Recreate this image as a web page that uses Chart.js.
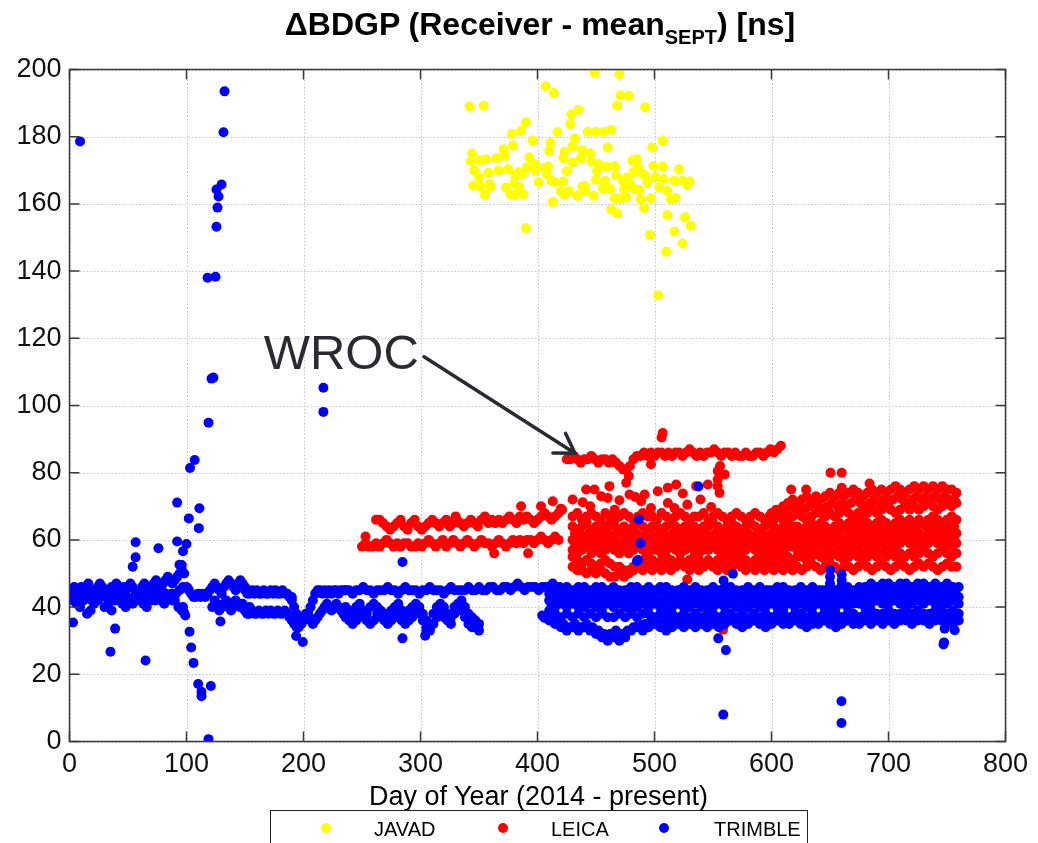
<!DOCTYPE html>
<html>
<head>
<meta charset="utf-8">
<title>BDGP receiver offsets</title>
<script src="https://cdn.jsdelivr.net/npm/chart.js@4.4.1/dist/chart.umd.min.js"></script>
<style>
  body { margin: 0; background: #fff; }
  #wrap { position: relative; width: 1038px; height: 843px; overflow: hidden; font-family: "Liberation Sans", Arial, sans-serif; color: #000; }
  #chart { position: absolute; left: 0; top: 0; }
  #title { position: absolute; left: 0; width: 1080px; top: 8px; line-height: 32px; text-align: center; font-weight: bold; font-size: 32px; white-space: nowrap; }
  #title sub { font-size: 20px; line-height: 0; vertical-align: -9px; }
  #xlabel { position: absolute; left: 0; width: 1077px; top: 783px; line-height: 27px; text-align: center; font-size: 27px; white-space: nowrap; }
  #wroc { position: absolute; font-size: 49px; line-height: 49px; color: #2a2a33; white-space: nowrap; }
  #legend { position: absolute; left: 270px; top: 810px; width: 536px; height: 60px; border: 1.5px solid #222; }
  .ldot { position: absolute; width: 10px; height: 10px; border-radius: 50%; }
  .ltxt { position: absolute; font-size: 20px; line-height: 20px; white-space: nowrap; }
</style>
</head>
<body>
<div id="wrap">
  <canvas id="chart" width="1038" height="843"></canvas>
  <div id="title">&Delta;BDGP (Receiver - mean<sub>SEPT</sub>) [ns]</div>
  <div id="xlabel">Day of Year (2014 - present)</div>
  <div id="wroc">WROC</div>
  <div id="legend"></div>
</div>
<script>
// ---- data (day of year, offset in ns) ----
const seriesNames = ["JAVAD", "LEICA", "TRIMBLE"];
const seriesColors = ["#ffff00", "#ff0000", "#0000ff"];

// JAVAD: scattered points
const javadPoints = [
  [342,189],[354,189.2],[407,195],[414,193],[449,199],[470,198.6],[471,192.3],[478,192.2],[468,189.3],[492,188.8],
  [429,186.7],[435,188],[428,183.8],[390,184.3],[386,181.8],[378,180.8],[396,178.8],[417,181.4],[443,181.5],[450,181.5],
  [457,181.5],[463,182.1],[432,179.5],[411,178.1],[410,175.8],[430,177],[423,175.5],[422,173.6],[438,176],[445,175.1],
  [460,176.8],[437,173.6],[430,172.4],[425,169.7],[446,172.6],[452,171.9],[451,169.9],[466,171.3],[467,168.6],[459,171.1],
  [406,170.7],[409,171.1],[398,169.9],[398,171.9],[393,173.9],[391,170.9],[387,168.9],[384,169.4],[381,168.3],[379,177.3],
  [371,176.3],[372,174.3],[365,173.6],[367,169.9],[375,170.4],[356,173.3],[351,173],[344,175],[343,172.6],[346,169.9],
  [350,167.9],[358,169.3],[345,165.4],[351,165.2],[359,165.9],[360,165.2],[355,162.7],[373,164.9],[377,162.9],[380,166.1],
  [381,162.7],[384,165.2],[388,162.9],[390,152.8],[401,166.5],[408,168.9],[412,166.9],[415,166.5],[422,166.7],[413,160.6],
  [420,163.8],[423,162.7],[427,163.8],[434,162.4],[438,165.1],[440,165.4],[441,163.8],[448,162.4],[450,167.2],[457,165.7],
  [458,166.9],[462,164.5],[456,164.6],[463,158.3],[468,157.2],[466,161.7],[471,161.7],[474,164.4],[473,166.9],[476,161.9],
  [477,167.9],[481,172.9],[485,173.3],[486,170.9],[482,169.4],[479,165.9],[483,164.4],[487,164.1],[488,161.4],[491,158.8],
  [490,168.9],[494,166.4],[492,168.4],[498,176.8],[507,178.8],[499,171.3],[507,171.1],[501,168],[497,161.7],[504,164.9],
  [508,167.4],[511,163.9],[514,161.5],[518,161.8],[517,166.9],[521,170.4],[524,166.9],[528,165.7],[530,166.7],[511,156.7],
  [526,156],[531,153.5],[517,151.8],[524,148.2],[496,150.8],[510,145.8],[503,132.8]
];

// LEICA: daily tracks per station (start day, step in days, values)
const leicaLeftLow = [58,59,58,58,59,58,59,60,59,58,59,58,59,59,58,58,59,58,59,60,59,58,59,60,58,59,60,59,58,59,
  60,59,58,59,60,59,59,58,59,60,59,58,59,60,59,60,59,60,60,59,60,61,60,59,60,61,60];
const leicaLeftHigh = [66,66,65,64,63,64,65,66,64,63,65,66,64,63,64,65,66,65,64,65,66,64,65,66,65,64,65,66,65,64,
  66,67,65,66,65,66,65,66,67,66,65,67,66,67,66,65,66,67,68,67,66,67,68];
const leicaWroc = [84,84,85,84,83,84,84,85,84,83,84,84,83,84,83,82,81,81,82,84,85,85,86,85,86,85,86,86,85,86,
  85,86,86,85,86,87,86,85,86,85,86,86,87,86,85,86,86,85,86,85,85,86,85,85,86,86,85,86,87,86,87,88];
const leicaA = [67,68,66,67,68,67,66,68,67,66,67,68,67,66,67,68,67,67,66,68,67,66,67,68,67,66,67,67,68,66,
  67,68,67,66,67,68,67,66,67,68,67,66,67,
  66,67,66,67,67,68,67,66,67,68,68,67,68,67,68,69,68,67,68,69,68,69,68,69,70,69,68,69,70,69,70,69,70,71,70,69,70,71,70,71];
const leicaB = [64,63,64,65,63,64,63,64,65,64,63,64,63,64,65,64,63,64,64,63,64,65,64,63,64,65,64,63,64,64,
  65,64,63,64,65,64,63,64,65,64,63,64,65,
  64,63,64,65,64,64,63,64,65,64,65,64,63,64,65,64,65,64,65,66,65,64,65,66,65,64,65,66,65,66,65,66,65,66,67,66,65,66,67,66];
const leicaI = [62,62,61,62,62,61,62,62,61,62,62,61,62,62,61,62,62,61,62,62,61,62,62,61,62,62,61,62,62,61,
  62,62,61,62,62,61,62,62,61,62,62,61,
  62,62,63,62,63,62,63,63,62,63,63,62,63,63,62,63,63,64,63,63,64,63,64,63,64,64,63,64,64,63,64,64,65,64,64,65,64,65,64,64];
const leicaC = [60,61,59,60,61,60,59,60,61,60,59,60,61,60,59,60,61,60,60,59,60,61,60,59,60,61,60,59,60,61,
  60,60,59,60,61,60,59,60,61,60,59,60,61,
  60,61,60,61,60,61,61,60,61,62,61,60,61,62,61,60,61,62,61,62,61,62,61,62,61,62,63,62,61,62,63,62,61,62,63,62,63,62,61,62];
const leicaJ = [58,59,58,58,59,58,58,59,58,58,59,58,58,59,58,58,59,58,58,59,58,58,59,58,58,59,58,58,59,58,
  58,59,58,58,59,58,58,59,58,58,59,58,
  59,59,58,59,59,58,59,59,60,59,59,60,59,59,60,59,60,60,59,60,60,59,60,60,61,60,60,61,60,60,61,60,61,61,60,61,60,61,61,60];
const leicaD = [57,56,57,58,56,57,56,57,58,57,56,57,56,57,58,57,56,57,57,56,57,58,57,56,57,58,57,56,57,57,
  58,57,56,57,58,57,56,57,58,57,56,57,58,
  57,58,57,58,58,57,58,57,58,59,58,57,58,59,58,57,58,59,58,59,58,59,58,59,58,59,58,59,60,59,58,59,60,59,60,59,60,59,58,59];
const leicaE = [55,54,53,54,53,52,53,54,53,52,52,51,51,52,53,54,53,54,53,54,55,54,53,54,53,54,55,54,53,54,
  53,54,53,54,55,54,53,54,53,54,53,54,55,
  54,55,54,55,54,55,55,54,55,56,55,54,55,56,55,54,55,56,55,56,55,56,55,56,55,56,55,56,55,56,55,56,57,56,55,56,57,56,55,56];
const leicaF = [52,51,51,50,51,50,51,50,49,49,50,49,50,51,52,51,52,51,52,51,52,51,52,53,52,51,52,51,52,53,
  52,51,52,51,52,53,52,51,52,51,52,51,52,
  51,52,51,52,51,52,51,52,53,52,51,52,53,52,51,52,52,51,52,53,52,51,52,53,52,51,52,53,52,51,52,53,52,53,52,51,52,53,52,52];
const leicaH = [68,69,68,69,70,69,70,69,70,71,70,69,70,71,70,71,70,71,72,71,70,71,72,71,72,71,72,73,72,71,
  72,73,72,73,72,73,72,73,72,72];
const leicaG = [70,71,72,71,72,73,72,73,72,73,74,73,74,73,74,75,74,73,74,75,74,75,74,75,76,75,74,75,76,75,
  76,75,76,75,76,75,75,74];
const leicaExtra = [
  [253,61],[363,56],[392,56],[386,70],[403,70],[413,71.5],[421,69],[330,67],
  [506,90.5],[507,91.8],[497,82.5],[554,78],[554,80.5],[556,82],[560,79.5],[478,79],
  [441.6,75],[448.7,75],[461.5,76],[475.8,77],[483.5,72.8],[491.5,73.5],[502.8,74.5],[511.4,75.5],[518.5,76.5],[524.2,73.8],
  [535.6,76],[545.6,76.5],[554,76],[555.6,74],[460,72.5],[470,71.8],[478.6,73.5],[488.6,71.5],[511.4,71],[517,69.5],
  [539.3,72],[548.4,69.8],[438.7,71.2],[454.4,73],[420,69.3],[430,72],[445,70],[466,69],[497,69.5],[528,70.5],
  [650.4,80],[660,80],[660,75.5],[616.8,75],[629.6,75],[683.8,76.8],
  [528,48.2],[558.6,33.3]
];

// TRIMBLE: daily tracks per station
const trimbleLeftTop = [44,45,46,45,44,46,45,46,47,45,44,45,46,47,46,45,44,45,46,46,47,45,44,46,45,46,47,46,45,44,
  45,46,47,46,45,46,47,48,47,46,47,48,49,48,47,48,49,50,51,50];
const trimbleLeftMid = [44,43,44,42,43,44,42,43,44,45,43,42,44,43,44,45,43,42,43,44,45,43,44,43,42,43,45,44,43,42,44,45,46];
const trimbleLeftLow = [43,42,41,40,42,38,39,41,42,43,40,41,39,42,43,41,40,42,41,42,43,41,40,42,43,44,42,41,43,44,42,40,39];
const trimbleSpikeTop = [46,45,44,43,43,44,43,44,43,44,45,46,47,46,45,44,46,47,48,47,46,45,47,48,47,46];
const trimbleSpikeLow = [40,42,41,39,40,41,42,40,39,40,42,41,40,41,39,38,40,39];
const trimbleMidTop = [45,44,44,45,44,45,44,44,45,44,44,45,44,45,44,44,45,44,44,43,43];
const trimbleMidLow = [39,38,38,39,38,38,39,38,38,39,38,39,38,38,39,38,38,39,38,37,37];
const trimbleWaveTop = [42,40,38,36,35,36,37,38,40,42,44,45,45,44,45,44,45,44,45,45,44,45,45,45];
const trimbleWaveLow = [36,35,34,34,35,36,38,37,36,35,36,37,38,39,40,41,40,39,40,41,40,39,38,37];
const trimbleLine = [45,45,44,45,45,46,45,45,44,45,45,45,46,45,45,44,45,46,45,45,45,44,45,45,46,45,45,45,44,45,
  46,45,45,45,45,46,45,45,46,45,45,46,46,45,45,46,46,45,46,47,46,45,46,46,46,45,46,46,46,47,46,46];
const trimbleLowA = [40,39,38,40,41,39,38,40,41,40,39,38,37,39,40,41,39,38,39,40,41,40,38,36,34,38,40,41,40,38,
  37,40,41,42,40,38,37,36,35];
const trimbleLowB = [37,36,35,36,38,37,36,35,36,38,37,36,35,36,37,38,36,35,36,37,38,39,36,34,33,35,37,38,37,36,
  35,38,40,39,37,35,34,34,33];
const trimbleBand1 = [44,45,45,46,45,46,46,45,46,46,45,46,45,45,46,46,45,46,45,46,46,45,45,46,45,46,45,45,46,45,
  46,46,45,45,46,45,46,45,45,46,46,45,45,46,45,46,45,45,46,45,46,46,45,46,46,47,46,47,47,46,47,47,46,47,47,46,47,46,47,46,46];
const trimbleBand8 = [44,44,45,44,45,44,44,45,44,44,45,44,44,45,44,44,45,44,44,45,44,44,45,44,44,45,44,44,45,44,
  44,45,44,44,45,44,44,45,44,44,45,44,44,45,44,44,45,44,44,45,45,45,44,45,45,46,45,45,46,45,45,46,45,46,45,45,46,45,46,45];
const trimbleBand2 = [42,43,43,44,43,42,43,44,43,43,42,43,44,43,42,43,43,44,43,42,43,43,44,43,42,43,44,43,43,42,
  43,44,43,43,42,43,43,44,43,42,43,43,44,43,42,43,44,43,42,43,43,44,43,43,44,44,43,44,45,44,43,44,44,45,44,43,44,44,45,44,43];
const trimbleBand6 = [41,42,42,41,42,42,41,42,42,41,42,41,42,42,41,42,41,42,42,41,42,42,41,42,41,42,42,41,42,41,
  42,42,41,42,42,41,42,41,42,42,41,42,42,41,42,41,42,42,41,42,42,43,42,42,43,42,43,42,43,43,42,43,43,42,43,43,42,43,43,42];
const trimbleBand3 = [39,40,41,40,41,40,40,41,40,39,41,40,41,40,39,40,41,40,41,40,39,40,41,40,40,41,40,39,40,41,
  40,41,40,39,40,41,40,40,41,40,39,41,40,41,40,40,41,40,39,40,41,40,41,41,40,41,42,41,41,42,41,40,41,42,41,42,41,40,41,42,41];
const trimbleBand4 = [37,38,37,38,37,38,37,38,37,38,37,37,38,37,38,37,38,38,37,38,37,38,37,38,37,38,37,37,38,37,
  38,38,37,38,37,38,37,38,37,38,37,37,38,38,37,38,37,38,37,38,37,38,38,37,38,39,38,38,39,38,38,39,38,39,38,38,39,38,38,39,38];
const trimbleBand7 = [36,35,35,34,35,34,35,34,33,32,32,33,32,33,34,35,35,36,36,35,35,36,36,35,36,36,35,36,36,35,
  36,37,36,36,37,36,36,35,36,37,36,37,37,36,36,37,36,37,36,36,37,37,36,37,37,36,37,37,36,37,37,37,36,37,37,36,37,37,36,37];
const trimbleBand5 = [36,35,34,33,34,33,34,33,32,31,30,31,30,31,33,34,33,34,35,34,33,34,35,34,35,34,35,34,35,34,
  35,36,35,34,35,36,35,34,35,36,35,35,36,35,34,35,35,36,35,34,35,36,35,35,36,35,36,35,36,35,36,36,35,36,36,35,36,36,35,35,36];
const trimbleExtra = [
  [9,178.6],[3,35.4],[35,26.7],[39,33.6],[65,24.1],[56.5,59.3],[56.5,54.8],[54,52],[76,57.5],[92,71.1],
  [92,59.5],[100,58.8],[97,56.6],[96,52.5],[94,52.6],[102,66.4],[111,69.4],[110.5,63.5],[103,81.4],[107,83.8],
  [97,40],[99,37.5],[98,38.3],[101,45.7],[102.6,32.7],[104,28],[106,23.4],[110,17.1],[112.8,14.8],[112.8,13.5],
  [120.8,16.5],[118.8,0.7],[129,35.7],[132.5,193.5],[131.6,181.3],[130,165.8],[125.6,164.3],[127.4,162.2],[126.5,158.9],[125.6,153.2],
  [124.8,138.3],[118,138],[121.4,108],[123,108.3],[118.8,94.9],[217,105.3],[217,98.1],[193.7,31.4],[199.4,29.6],[284.6,30.7],
  [284.6,53.4],[304,31.5],[305,33],[406,36.8],[404,37.5],[485,53.7],[537.6,75.9],[486.6,66.1],[488,59],[485.8,54],
  [567,49.9],[559,47.9],[650,51],[650,49],[650,47],[660,49.7],[660,48],[660,46.5],[558.8,8],[659.8,12],
  [659.8,5.5],[554.5,30.7],[561,27.2],[748,33.6],[747,28.9],[747.5,29.5],[756.6,33.1]
];

// annotation (data coordinates)
const wrocTextAt = [166, 110.6];
const wrocArrowFrom = [303, 114.5];
const wrocArrowTo = [432, 85.8];

// legend placement inside the boxed legend
const legendDotX = [326, 503, 664];
const legendTextX = [374, 551, 714];

function track(start, step, ys) {
  return ys.map((v, i) => ({ x: start + i * step, y: v }));
}
function pairs(list) {
  return list.map(p => ({ x: p[0], y: p[1] }));
}

const javadData = pairs(javadPoints);
const leicaData = [].concat(
  track(250, 3, leicaLeftLow), track(262, 3, leicaLeftHigh), track(425, 3, leicaWroc),
  track(430, 4, leicaA), track(430, 4, leicaB), track(432, 4, leicaI), track(430, 4, leicaC),
  track(432, 4, leicaJ), track(430, 4, leicaD), track(430, 4, leicaE), track(430, 4, leicaF),
  track(600, 4, leicaH), track(610, 4, leicaG), pairs(leicaExtra));
const trimbleData = [].concat(
  track(0, 2, trimbleLeftTop), track(1, 3, trimbleLeftMid), track(0, 3, trimbleLeftLow),
  track(100, 2, trimbleSpikeTop), track(122, 2, trimbleSpikeLow),
  track(150, 2, trimbleMidTop), track(150, 2, trimbleMidLow), track(190, 2, trimbleWaveTop), track(190, 2, trimbleWaveLow),
  track(236, 3, trimbleLine), track(236, 3, trimbleLowA), track(236, 3, trimbleLowB),
  track(410, 5, trimbleBand1), track(412, 5, trimbleBand8), track(410, 5, trimbleBand2), track(412, 5, trimbleBand6),
  track(410, 5, trimbleBand3), track(410, 5, trimbleBand4), track(412, 5, trimbleBand7), track(410, 5, trimbleBand5),
  pairs(trimbleExtra));

// legend (html, boxed like the original)
const wrapEl = document.getElementById("wrap");
seriesNames.forEach((name, i) => {
  let dot = document.createElement("div");
  dot.className = "ldot";
  dot.style.background = seriesColors[i];
  dot.style.left = (legendDotX[i] - 5) + "px";
  dot.style.top = "823px";
  wrapEl.appendChild(dot);
  let txt = document.createElement("div");
  txt.className = "ltxt";
  txt.innerText = name;
  txt.style.left = legendTextX[i] + "px";
  txt.style.top = "819px";
  wrapEl.appendChild(txt);
});

// grid, matlab style box with inward ticks, arrow
const boxPlugin = {
  id: "box",
  beforeDatasetsDraw(chart) {
    const { ctx, chartArea: a, scales } = chart;
    ctx.save();
    ctx.strokeStyle = "#c6c6c6";
    ctx.lineWidth = 1;
    ctx.setLineDash([1.5, 2]);
    scales.x.ticks.forEach(t => {
      const px = Math.round(scales.x.getPixelForValue(t.value)) + 0.5;
      ctx.beginPath(); ctx.moveTo(px, a.top); ctx.lineTo(px, a.bottom); ctx.stroke();
    });
    scales.y.ticks.forEach(t => {
      const py = Math.round(scales.y.getPixelForValue(t.value)) + 0.5;
      ctx.beginPath(); ctx.moveTo(a.left, py); ctx.lineTo(a.right, py); ctx.stroke();
    });
    ctx.restore();
  },
  afterDatasetsDraw(chart) {
    const { ctx, chartArea: a, scales } = chart;
    const x = scales.x, y = scales.y;
    ctx.save();
    ctx.strokeStyle = "#3a3a3a";
    ctx.lineWidth = 1.5;
    ctx.strokeRect(a.left, a.top, a.right - a.left, a.bottom - a.top);
    ctx.beginPath();
    x.ticks.forEach(t => {
      const px = x.getPixelForValue(t.value);
      ctx.moveTo(px, a.bottom); ctx.lineTo(px, a.bottom - 10);
      ctx.moveTo(px, a.top); ctx.lineTo(px, a.top + 10);
    });
    y.ticks.forEach(t => {
      const py = y.getPixelForValue(t.value);
      ctx.moveTo(a.left, py); ctx.lineTo(a.left + 10, py);
      ctx.moveTo(a.right, py); ctx.lineTo(a.right - 10, py);
    });
    ctx.stroke();

    // WROC arrow
    const x1 = x.getPixelForValue(wrocArrowFrom[0]), y1 = y.getPixelForValue(wrocArrowFrom[1]);
    const x2 = x.getPixelForValue(wrocArrowTo[0]), y2 = y.getPixelForValue(wrocArrowTo[1]);
    const ang = Math.atan2(y2 - y1, x2 - x1);
    const head = 22, spread = 0.56;
    ctx.strokeStyle = "#2a2a33";
    ctx.lineWidth = 3.5;
    ctx.lineCap = "round";
    ctx.beginPath();
    ctx.moveTo(x1, y1); ctx.lineTo(x2, y2);
    ctx.moveTo(x2 - head * Math.cos(ang - spread), y2 - head * Math.sin(ang - spread));
    ctx.lineTo(x2, y2);
    ctx.lineTo(x2 - head * Math.cos(ang + spread), y2 - head * Math.sin(ang + spread));
    ctx.stroke();
    ctx.restore();

    // place the WROC label (baseline-left at its data point)
    const lbl = document.getElementById("wroc");
    lbl.style.left = x.getPixelForValue(wrocTextAt[0]) + "px";
    lbl.style.top = (y.getPixelForValue(wrocTextAt[1]) - 41.5) + "px";
  }
};

Chart.defaults.font.family = "'Liberation Sans', Arial, sans-serif";

const ctx = document.getElementById("chart").getContext("2d");
const chart = new Chart(ctx, {
  type: "scatter",
  data: {
    datasets: [
      { label: seriesNames[0], data: javadData, backgroundColor: seriesColors[0], order: 3 },
      { label: seriesNames[1], data: leicaData, backgroundColor: seriesColors[1], order: 2 },
      { label: seriesNames[2], data: trimbleData, backgroundColor: seriesColors[2], order: 1 }
    ]
  },
  options: {
    responsive: false,
    devicePixelRatio: 1,
    animation: false,
    events: [],
    elements: { point: { radius: 5, borderWidth: 0, pointStyle: "circle" } },
    layout: { padding: { left: 0, top: 69.5, right: 32.5, bottom: 0 } },
    plugins: { legend: { display: false }, tooltip: { enabled: false } },
    scales: {
      x: {
        type: "linear", min: 0, max: 800,
        ticks: { stepSize: 100, color: "#111", font: { size: 27 }, padding: 7, maxRotation: 0 },
        grid: { display: false, drawTicks: false },
        border: { display: false },
        afterFit(scale) { scale.height = 101.5; }
      },
      y: {
        type: "linear", min: 0, max: 200,
        ticks: { stepSize: 20, color: "#111", font: { size: 27 }, padding: 8 },
        grid: { display: false, drawTicks: false },
        border: { display: false },
        afterFit(scale) { scale.width = 69.5; }
      }
    }
  },
  plugins: [boxPlugin]
});
</script>
</body>
</html>
